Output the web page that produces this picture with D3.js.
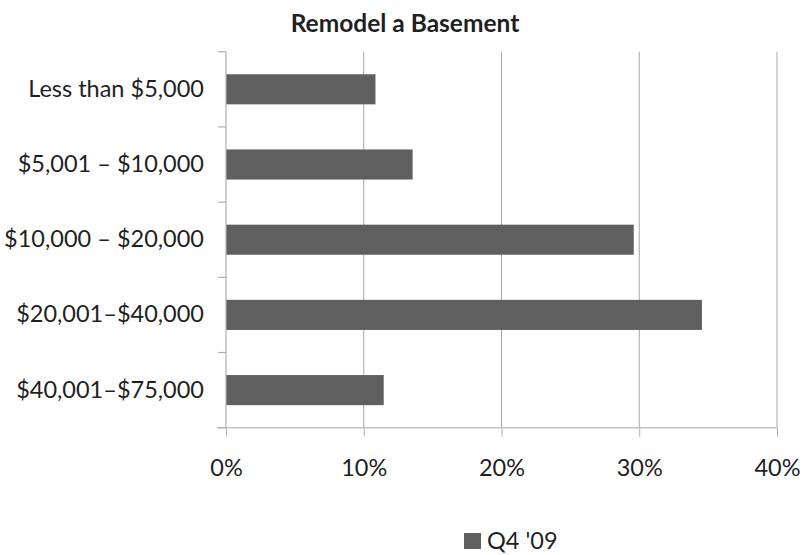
<!DOCTYPE html>
<html>
<head>
<meta charset="utf-8">
<script src="https://cdn.jsdelivr.net/npm/d3@7"></script>
<style>
  html, body { margin: 0; padding: 0; background: #fff; }
  svg { display: block; }
  text { font-family: Lato, "Open Sans", sans-serif; fill: #1f1f1f; }
</style>
</head>
<body>
<svg id="chart" width="802" height="555"></svg>
<script>
const title = "Remodel a Basement";
const categories = ["Less than $5,000", "$5,001 – $10,000", "$10,000 – $20,000", "$20,001–$40,000", "$40,001–$75,000"];
const values = [10.85, 13.55, 29.6, 34.55, 11.45];
const xTicks = [0, 10, 20, 30, 40];
const seriesName = "Q4 '09";

const svg = d3.select("#chart");
const plotL = 226, plotR = 777, plotT = 51.7, plotB = 427.7;
const labelSize = "23.5px";

const x = d3.scaleLinear().domain([0, 40]).range([plotL, plotR]);
const y = d3.scaleBand().domain(categories).range([plotT, plotB]).padding(0);
const barH = y.bandwidth() * 0.4;

// title
svg.append("text")
  .attr("x", 405).attr("y", 32)
  .attr("text-anchor", "middle")
  .style("font-weight", "bold").style("font-size", "24.5px")
  .text(title);

// gridlines
svg.append("g").selectAll("line").data(xTicks.slice(1)).join("line")
  .attr("x1", d => x(d)).attr("x2", d => x(d))
  .attr("y1", plotT).attr("y2", plotB)
  .attr("stroke", "#a6a6a6").attr("stroke-width", 1);

// bars
svg.append("g").selectAll("rect").data(categories).join("rect")
  .attr("x", x(0))
  .attr("y", (d) => y(d) + (y.bandwidth() - barH) / 2)
  .attr("width", (d, i) => x(values[i]) - x(0))
  .attr("height", barH)
  .attr("fill", "#5f5f5f");

// x axis
const xAxis = d3.axisBottom(x).tickValues(xTicks).tickSize(9).tickPadding(23)
  .tickFormat(d => d + "%");
const gx = svg.append("g").attr("transform", `translate(0,${plotB})`).call(xAxis);
gx.select(".domain").remove();
gx.append("line").attr("x1", plotL - 9).attr("x2", plotR).attr("y1", 0).attr("y2", 0)
  .attr("stroke", "#c4c4c4").attr("stroke-width", 1.5);
gx.selectAll(".tick line").attr("stroke", "#b0b0b0");
gx.selectAll(".tick text").style("font-size", labelSize).attr("fill", "#1f1f1f")
  .style("font-family", "Lato, 'Open Sans', sans-serif");

// y axis
const yAxis = d3.axisLeft(y).tickSize(0).tickPadding(22);
const gy = svg.append("g").attr("transform", `translate(${plotL},0)`).call(yAxis);
gy.select(".domain").remove();
gy.append("line").attr("x1", 0).attr("x2", 0).attr("y1", plotT).attr("y2", plotB)
  .attr("stroke", "#b0b0b0").attr("stroke-width", 1.2);
// boundary ticks
const yBounds = categories.map(c => y(c)).concat([plotB]);
gy.append("g").selectAll("line").data(yBounds).join("line")
  .attr("x1", -8).attr("x2", 0).attr("y1", d => d).attr("y2", d => d)
  .attr("stroke", "#b0b0b0").attr("stroke-width", 1.2);
gy.selectAll(".tick text").style("font-size", labelSize).attr("fill", "#1f1f1f")
  .style("font-family", "Lato, 'Open Sans', sans-serif");

// legend
const lg = svg.append("g");
lg.append("rect").attr("x", 464).attr("y", 533).attr("width", 17).attr("height", 16).attr("fill", "#5f5f5f");
lg.append("text").attr("x", 487).attr("y", 549).style("font-size", labelSize).text(seriesName);
</script>
</body>
</html>
